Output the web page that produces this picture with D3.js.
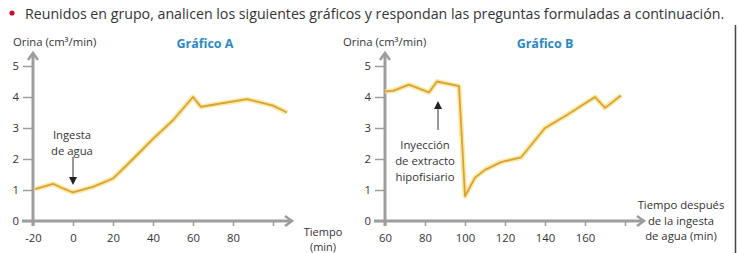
<!DOCTYPE html>
<html>
<head>
<meta charset="utf-8">
<script src="https://cdn.jsdelivr.net/npm/d3@7"></script>
<style>
  body { margin: 0; background: #fff; }
  text { font-family: "Open Sans", sans-serif; fill: #333; }
</style>
</head>
<body>
<script>
var Width = 738;
var Height = 253;

// data
var timeA = [-19, -10, -5, 0, 10, 20, 30, 40, 50, 60, 64, 70, 87, 100, 107];
var urineA = [1.03, 1.2, 1.05, 0.92, 1.1, 1.37, 2.0, 2.65, 3.25, 4.0, 3.68, 3.75, 3.93, 3.72, 3.5];
var timeB = [60, 64, 72, 82, 86, 97, 100, 105, 110, 118, 128, 140, 150, 165, 170, 178];
var urineB = [4.18, 4.2, 4.4, 4.15, 4.5, 4.35, 0.8, 1.4, 1.65, 1.9, 2.05, 3.0, 3.38, 4.0, 3.65, 4.05];
var yTicks = [0, 1, 2, 3, 4, 5];
var xTicksA = [-20, 0, 20, 40, 60, 80];
var xTicksB = [60, 80, 100, 120, 140, 160];

var AxisGray = "#9d9d9d";

function main () {
  var svg = d3.select("body").append("svg")
    .attr("width", Width)
    .attr("height", Height);

  // heading
  svg.append("circle").attr("cx", 12).attr("cy", 13).attr("r", 2.6).attr("fill", "#c8102e");
  svg.append("text").attr("x", 25).attr("y", 19)
    .style("font-size", "14.2px")
    .text("Reunidos en grupo, analicen los siguientes gráficos y respondan las preguntas formuladas a continuación.");

  // right border
  svg.append("line").attr("x1", 735.5).attr("x2", 735.5).attr("y1", 25).attr("y2", Height)
    .attr("stroke", "#444").attr("stroke-width", 1.5);

  var yScale = d3.scaleLinear().domain([0, 5]).range([221, 66]);

  var xA = d3.scaleLinear().domain([-20, 100]).range([33, 273]);
  makePanel(svg, xA, yScale, xTicksA, 100, "Gráfico A", 205, 13);
  drawLine(svg, xA, yScale, timeA, urineA);

  var xB = d3.scaleLinear().domain([60, 180]).range([385, 625]);
  makePanel(svg, xB, yScale, xTicksB, 180, "Gráfico B", 545, 343);
  drawLine(svg, xB, yScale, timeB, urineB);

  // annotations A
  multiText(svg, 72, 139, ["Ingesta", "de agua"], 16, "middle", 11.3);
  arrow(svg, xA(0), 157, xA(0), 185);
  multiText(svg, 323, 236, ["Tiempo", "(min)"], 14.5, "middle", 11);

  // annotations B
  multiText(svg, 425, 149, ["Inyección", "de extracto", "hipofisiario"], 16, "middle", 11.3);
  arrow(svg, xB(86.5), 130, xB(86.5), 101);
  multiText(svg, 681, 209, ["Tiempo después", "de la ingesta", "de agua (min)"], 15.5, "middle", 11.3);
}

function makePanel (svg, x, y, xTicks, lastTick, title, titleX, labelX) {
  var x0 = x.range()[0];

  svg.append("text").attr("x", labelX).attr("y", 46)
    .style("font-size", "11.3px")
    .text("Orina (cm³/min)");

  svg.append("text").attr("x", titleX).attr("y", 48)
    .attr("text-anchor", "middle")
    .style("font-size", "12.5px").style("font-weight", "bold")
    .style("fill", "#2a8ac4")
    .text(title);

  var yAxis = d3.axisLeft(y).tickValues(yTicks).tickSize(10).tickPadding(4).tickFormat(d3.format("d"));
  var gy = svg.append("g").attr("transform", "translate(" + x0 + ",0)").call(yAxis);
  gy.select(".domain").remove();
  gy.selectAll("line").attr("stroke", AxisGray).attr("stroke-width", 1.5);
  gy.selectAll("text").style("font-size", "11.3px").style("fill", "#333");

  var xAxis = d3.axisBottom(x).tickValues(xTicks.concat([lastTick])).tickSize(5).tickPadding(8)
    .tickFormat(function (d) { return d === lastTick ? "" : d; });
  var gx = svg.append("g").attr("transform", "translate(0," + y(0) + ")").call(xAxis);
  gx.select(".domain").remove();
  gx.selectAll("line").attr("stroke", AxisGray).attr("stroke-width", 1.5);
  gx.selectAll("text").style("font-size", "11.3px").style("fill", "#333");

  // axis lines with open arrow heads
  var tipX = x(lastTick) + 19;
  svg.append("line").attr("x1", x0 - 11).attr("x2", tipX).attr("y1", y(0)).attr("y2", y(0))
    .attr("stroke", AxisGray).attr("stroke-width", 3);
  svg.append("path")
    .attr("d", "M" + (tipX - 7) + "," + (y(0) - 5) + "L" + tipX + "," + y(0) + "L" + (tipX - 7) + "," + (y(0) + 5))
    .attr("fill", "none").attr("stroke", AxisGray).attr("stroke-width", 2.5);

  var tipY = 53;
  svg.append("line").attr("x1", x0).attr("x2", x0).attr("y1", y(0) + 5).attr("y2", tipY)
    .attr("stroke", AxisGray).attr("stroke-width", 3);
  svg.append("path")
    .attr("d", "M" + (x0 - 5) + "," + (tipY + 7) + "L" + x0 + "," + tipY + "L" + (x0 + 5) + "," + (tipY + 7))
    .attr("fill", "none").attr("stroke", AxisGray).attr("stroke-width", 2.5);
}

function drawLine (svg, x, y, times, values) {
  var pts = times.map(function (t, i) { return [t, values[i]]; });
  var line = d3.line().x(function (d) { return x(d[0]); }).y(function (d) { return y(d[1]); });
  svg.append("path").attr("d", line(pts))
    .attr("fill", "none").attr("stroke", "#f7e68a").attr("stroke-width", 5)
    .attr("stroke-linejoin", "round").attr("stroke-opacity", 0.8);
  svg.append("path").attr("d", line(pts))
    .attr("fill", "none").attr("stroke", "#dc9f3c").attr("stroke-width", 1.8)
    .attr("stroke-linejoin", "round");
}

function multiText (svg, x, y, lines, lh, anchor, size) {
  var t = svg.append("text").attr("x", x).attr("y", y)
    .attr("text-anchor", anchor).style("font-size", size + "px");
  lines.forEach(function (s, i) {
    t.append("tspan").attr("x", x).attr("dy", i === 0 ? 0 : lh).text(s);
  });
}

function arrow (svg, x1, y1, x2, y2) {
  var dir = y2 > y1 ? 1 : -1;
  svg.append("line").attr("x1", x1).attr("x2", x2).attr("y1", y1).attr("y2", y2 - dir * 6)
    .attr("stroke", "#333").attr("stroke-width", 1);
  svg.append("path")
    .attr("d", "M" + (x2 - 4) + "," + (y2 - dir * 8) + "L" + x2 + "," + y2 + "L" + (x2 + 4) + "," + (y2 - dir * 8) + "Z")
    .attr("fill", "#222");
}

main();
</script>
</body>
</html>
